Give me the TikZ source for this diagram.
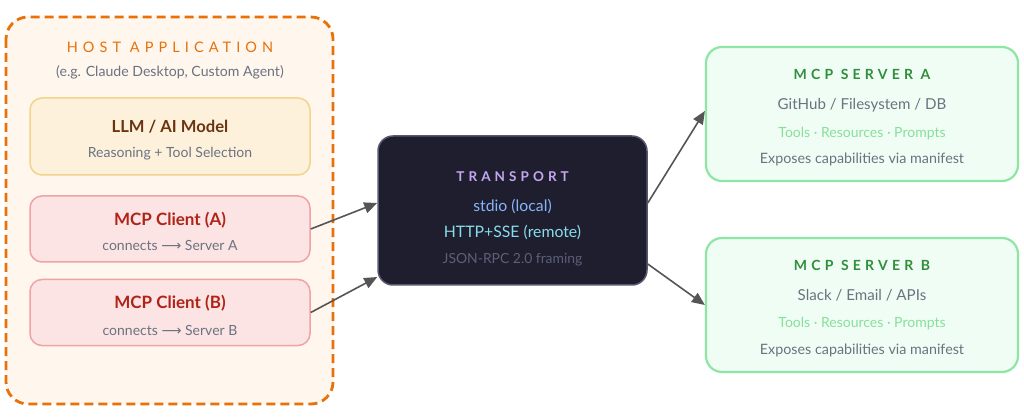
\documentclass[tikz,border=0pt]{standalone}
\usepackage{fontspec}
\setmainfont{Lato}
\newfontfamily\symfont{DejaVu Sans}
\usetikzlibrary{arrows.meta,calc}
\definecolor{hostfill}{HTML}{FFF6EE}
\definecolor{hoststroke}{HTML}{E8710A}
\definecolor{llmfill}{HTML}{FDF1DC}
\definecolor{llmstroke}{HTML}{F2D48A}
\definecolor{llmtitle}{HTML}{6B3410}
\definecolor{clfill}{HTML}{FCE4E4}
\definecolor{clstroke}{HTML}{EFA3A3}
\definecolor{cltitle}{HTML}{B02318}
\definecolor{subgray}{HTML}{6B7280}
\definecolor{trfill}{HTML}{1E1E2E}
\definecolor{trstroke}{HTML}{585870}
\definecolor{trtitle}{HTML}{C4A7F0}
\definecolor{trblue}{HTML}{89B4FA}
\definecolor{trcyan}{HTML}{89DCEB}
\definecolor{trgray}{HTML}{5C5F77}
\definecolor{svfill}{HTML}{F0FDF4}
\definecolor{svstroke}{HTML}{8EE6A4}
\definecolor{svtitle}{HTML}{2F8F3A}
\definecolor{svtools}{HTML}{86E09A}
\definecolor{arrowgray}{HTML}{555555}
\tikzset{
  box/.style={rounded corners=12pt, line width=1.5pt, inner sep=0pt},
  llmbox/.style={box, draw=llmstroke, fill=llmfill, minimum width=280pt, minimum height=77pt},
  clbox/.style={box, draw=clstroke, fill=clfill, minimum width=280pt, minimum height=66pt},
  trbox/.style={box, rounded corners=15pt, draw=trstroke, fill=trfill, minimum width=269pt, minimum height=149pt},
  svbox/.style={box, rounded corners=16pt, line width=2.2pt, draw=svstroke, fill=svfill, minimum width=312pt, minimum height=134pt},
  txt/.style={inner sep=0pt, anchor=base},
  sub/.style={txt, font=\fontsize{14}{16}\selectfont, text=subgray},
  conn/.style={draw=arrowgray, line width=1.6pt, -{Triangle[length=13pt,width=11pt]}},
}
\begin{document}
\begin{tikzpicture}[x=1pt,y=-1pt]
\useasboundingbox (0,0) rectangle (1024,419);
% host
\draw[hoststroke, fill=hostfill, line width=2.8pt, dash pattern=on 9pt off 5pt, rounded corners=22pt] (6,17) rectangle (333,404);
\node[txt, font=\fontsize{14.5}{16}\selectfont\addfontfeature{LetterSpace=35}, text=hoststroke] (hostt) at (170,52.5) {HOST APPLICATION};
\node[sub, font=\fontsize{14.1}{16}\selectfont] (hosts) at (170,77) {(e.g. Claude Desktop, Custom Agent)};
% llm
\node[llmbox] (llm) at (170,136.5) {};
\node[txt, font=\fontsize{16.6}{18}\bfseries\selectfont, text=llmtitle] (llmt) at (170,132.5) {LLM / AI Model};
\node[sub] (llms) at (170,158) {Reasoning + Tool Selection};
% clients
\node[clbox] (ca) at (170,229) {};
\node[txt, font=\fontsize{17}{18}\bfseries\selectfont, text=cltitle] (cat) at (170,225.5) {MCP Client (A)};
\node[sub] (cas) at (170,251) {connects {\symfont ⟶} Server A};
\node[clbox] (cb) at (170,312.5) {};
\node[txt, font=\fontsize{17}{18}\bfseries\selectfont, text=cltitle] (cbt) at (170,308.5) {MCP Client (B)};
\node[sub] (cbs) at (170,335) {connects {\symfont ⟶} Server B};
% transport
\node[trbox] (tr) at (512.5,210.5) {};
\node[txt, font=\fontsize{13.5}{16}\bfseries\selectfont\addfontfeature{LetterSpace=30}, text=trtitle] (trt) at (512.5,182) {TRANSPORT};
\node[txt, font=\fontsize{15.8}{18}\selectfont, text=trblue] (tr1) at (512.5,211.5) {stdio (local)};
\node[txt, font=\fontsize{15.8}{18}\selectfont, text=trcyan] (tr2) at (512.5,238) {HTTP+SSE (remote)};
\node[txt, font=\fontsize{13.9}{16}\selectfont, text=trgray] (tr3) at (512.5,264) {JSON-RPC 2.0 framing};
% servers
\node[svbox] (sa) at (862,114) {};
\node[txt, font=\fontsize{14}{16}\bfseries\selectfont\addfontfeature{LetterSpace=30}, text=svtitle] (sat) at (862,80) {MCP SERVER A};
\node[txt, font=\fontsize{15.1}{17}\selectfont, text=subgray] (sa1) at (862,109.5) {GitHub / Filesystem / DB};
\node[txt, font=\fontsize{14}{16}\selectfont, text=svtools] (sa2) at (862,137.5) {Tools · Resources · Prompts};
\node[sub, font=\fontsize{14.3}{16}\selectfont] (sa3) at (862,164) {Exposes capabilities via manifest};
\node[svbox] (sb) at (862,305) {};
\node[txt, font=\fontsize{14}{16}\bfseries\selectfont\addfontfeature{LetterSpace=30}, text=svtitle] (sbt) at (862,271) {MCP SERVER B};
\node[txt, font=\fontsize{15.1}{17}\selectfont, text=subgray] (sb1) at (862,300.5) {Slack / Email / APIs};
\node[txt, font=\fontsize{14}{16}\selectfont, text=svtools] (sb2) at (862,327.5) {Tools · Resources · Prompts};
\node[sub, font=\fontsize{14.3}{16}\selectfont] (sb3) at (862,354) {Exposes capabilities via manifest};
% connectors
\draw[conn] (ca.east) -- ([yshift=7.5pt]tr.west);
\draw[conn] (cb.east) -- ([yshift=-66.5pt]tr.west);
\draw[conn] ([yshift=7.5pt]tr.east) -- ([yshift=3pt]sa.west);
\draw[conn] ([yshift=-53.5pt]tr.east) -- (sb.west);
\end{tikzpicture}
\end{document}
